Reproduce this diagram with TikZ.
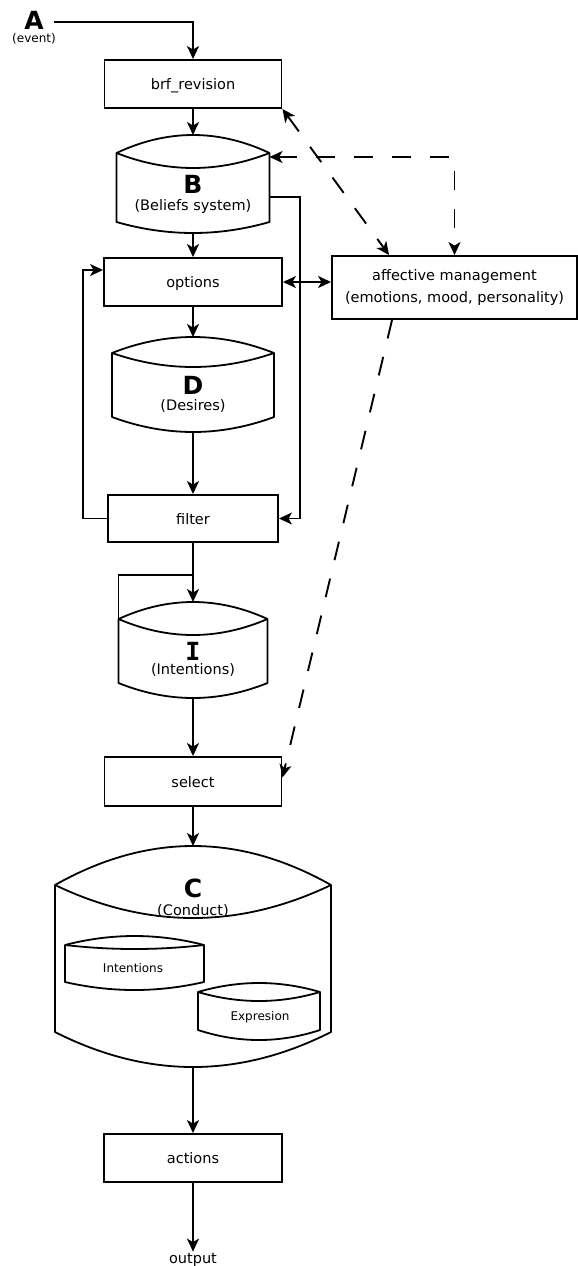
\documentclass[tikz,border=0pt]{standalone}
\usepackage{fontspec}
\setmainfont{DejaVu Sans}
\newfontfamily\slabfam{DejaVu Sans Mono}
\usetikzlibrary{arrows.meta,calc}

% A drum-shaped store: name, left x, right x, lid apex y, rim y, lid inner y, side bottom y, base y
\newcommand{\drum}[8]{%
  \pgfmathsetmacro\drmxa{#2+(#3-#2)/3}%
  \pgfmathsetmacro\drmxb{#3-(#3-#2)/3}%
  \pgfmathsetmacro\drmtop{#5+4/3*(#4-#5)}%
  \pgfmathsetmacro\drmlid{#5+4/3*(#6-#5)}%
  \pgfmathsetmacro\drmbot{#7+4/3*(#8-#7)}%
  \pgfmathsetmacro\drmcx{(#2+#3)/2}%
  \pgfmathsetmacro\drmcy{(#4+#8)/2}%
  \node[inner sep=0pt, outer sep=0pt, minimum width={#3-#2}, minimum height={#8-#4}] (#1) at (\drmcx,\drmcy) {};
  \draw[drumline] (#2,#5) .. controls (\drmxa,\drmtop) and (\drmxb,\drmtop) .. (#3,#5)
     -- (#3,#7) .. controls (\drmxb,\drmbot) and (\drmxa,\drmbot) .. (#2,#7) -- cycle;
  \draw[drumline] (#2,#5) .. controls (\drmxa,\drmlid) and (\drmxb,\drmlid) .. (#3,#5);
  \coordinate (#1-lt) at (#2,#5);
}

\tikzset{
  flow/.style={line width=1.9pt},
  dashflow/.style={line width=1.9pt, dash pattern=on 19pt off 19pt},
  drumline/.style={line width=1.8pt, line join=round},
  box/.style={draw, line width=1.9pt, inner sep=0pt, text height=11pt, text depth=0pt,
    font=\fontsize{14.5}{17}\selectfont},
  txt/.style={font=\fontsize{14.5}{17}\selectfont, inner sep=0pt},
  smalltxt/.style={font=\fontsize{12}{14}\selectfont, inner sep=0pt},
  bigletter/.style={font=\fontsize{25}{25}\selectfont\bfseries, inner sep=0pt},
}

\begin{document}
\begin{tikzpicture}[x=1pt, y=-1pt, >={Stealth[length=13pt,width=12pt,inset=3.5pt]}]
\useasboundingbox (0,0) rectangle (578,1266);

% event source
\node[bigletter, anchor=base] (A) at (34,29) {A};
\node[smalltxt, anchor=base] (event) at (34,42) {(event)};

% process boxes
\node[box, minimum width=177, minimum height=48] (brf) at (193,84) {brf\_revision};
\node[box, minimum width=178, minimum height=48] (options) at (193,282) {options};
\node[box, minimum width=170, minimum height=47] (filter) at (193,518.5) {filter};
\node[box, minimum width=177, minimum height=49] (select) at (193,781.5) {select};
\node[box, minimum width=178, minimum height=48] (actions) at (193,1158) {actions};
\node[draw, line width=1.9pt, inner sep=0pt, minimum width=245, minimum height=63, align=center,
      font=\fontsize{14.5}{21.5}\selectfont] (aff) at (454.5,287.5)
      {affective management\\(emotions, mood, personality)};

% stores
\drum{B}{116.5}{269.5}{135}{153}{168}{222}{233}
\node[bigletter, anchor=base] (Bl) at (193,193) {B};
\node[txt, anchor=base] (Bt) at (193,210.5) {(Beliefs system)};

\drum{D}{112}{274}{337}{353}{367}{417}{432}
\node[bigletter, anchor=base] (Dl) at (193,394.5) {D};
\node[txt, anchor=base] (Dt) at (193,410) {(Desires)};

\drum{I}{118.5}{267.5}{602}{619}{635}{683}{698}
\node[bigletter, font=\fontsize{25}{25}\selectfont\slabfam\bfseries, anchor=base] (Il) at (193,660) {I};
\node[txt, anchor=base] (It) at (193,674.5) {(Intentions)};

\drum{C}{55}{331}{846}{885}{918}{1032}{1067}
\node[bigletter, anchor=base] (Cl) at (193,897) {C};
\node[txt, anchor=base] (Ct) at (193,915) {(Conduct)};

\drum{CI}{65}{204}{936}{945}{949}{982}{990}
\node[smalltxt, anchor=base] (CIt) at (133,972) {Intentions};
\drum{CE}{198}{320}{983}{992}{1001}{1030}{1040}
\node[smalltxt, anchor=base] (CEt) at (260,1020) {Expresion};

\node[txt, anchor=base, inner sep=1pt] (output) at (193,1263) {output};

% main flow
\draw[flow,->] ([xshift=10pt,yshift=-2pt]A.east) -| (brf.north);
\draw[flow,->] (brf.south) -- (B.north);
\draw[flow,->] (B.south) -- (options.north);
\draw[flow,->] (options.south) -- (D.north);
\draw[flow,->] (D.south) -- (filter.north);
\draw[flow,->] (filter.south) -- (I.north);
\draw[flow,->] (I.south) -- (select.north);
\draw[flow,->] (select.south) -- (C.north);
\draw[flow,->] (C.south) -- (actions.north);
\draw[flow,->] (actions.south) -- (output.north);

% side links
\coordinate (split) at (193,575);
\draw[flow] (split) -| (I-lt);
\coordinate (fb) at (83,270);
\draw[flow,->] (filter.west) -| (fb) -- (fb -| options.west);
\coordinate (bx) at (300,197);
\draw[flow,->] (B.east |- bx) -- (bx) |- (filter.east);
\draw[flow,<->] (options.east) -- (options.east -| aff.west);

% affective influences
\coordinate (dc) at (455,157);
\draw[dashflow,<->] (B.north east |- dc) -| (aff.north);
\draw[dashflow,<->] (brf.south east) -- ([xshift=58pt]aff.north west);
\draw[dashflow,->] ([xshift=61pt]aff.south west) -- ([yshift=4pt]select.east);
\end{tikzpicture}
\end{document}
